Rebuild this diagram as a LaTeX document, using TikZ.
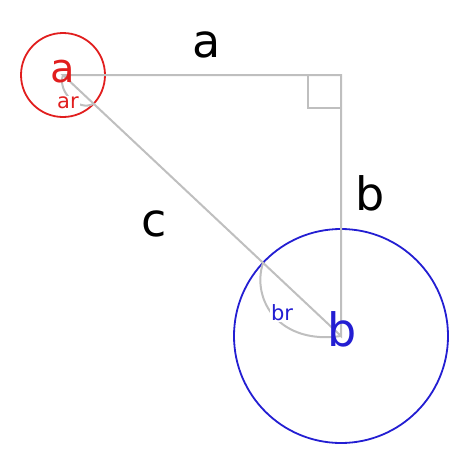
\documentclass[tikz,border=0pt]{standalone}
\usepackage{fontspec}
\setmainfont{DejaVu Sans}
\usetikzlibrary{calc}
\definecolor{cred}{RGB}{225,30,30}
\definecolor{cblue}{RGB}{35,30,210}
\tikzset{
 side/.style={draw=black!25, line width=2pt},
 biglabel/.style={font=\fontsize{46}{50}\selectfont, inner sep=0pt},
 smalllabel/.style={font=\fontsize{21}{24}\selectfont, inner sep=1pt, fill=white},
}

\begin{document}
\begin{tikzpicture}[x=1pt, y=-1pt]
\useasboundingbox (0,0) rectangle (474,466);
\coordinate (A) at (63,75);
\coordinate (B) at (341,336);
\coordinate (C) at (341,75);
% circles round the two points
\draw[cred, line width=1.8pt] (A) circle (42pt);
\draw[cblue, line width=1.8pt] (B) circle (107pt);
% the triangle
\draw[side] (A) -- (C) -- (B) -- cycle;
\draw[side, line width=1.6pt] ($(C)+(-33,0)$) --++(0,33) --++(33,0);
% radii along c
\coordinate (ra) at ($(A)!42pt!(B)$);
\coordinate (rb) at ($(B)!107pt!(A)$);
\draw[side] (ra) .. controls +(-15,8) and +(-6,17) .. (A);
\draw[side] (rb) .. controls +(-12,38) and +(-61,9) .. (B);
% labels
\node[biglabel] (la) at (207,45) {a};
\node[biglabel] (lb) at (370,193) {b};
\node[biglabel] (lc) at (154,224) {c};
\node[biglabel, text=cred, font=\fontsize{40}{44}\selectfont] (na) at (63,72) {a};
\node[biglabel, text=cblue] (nb) at (342,329) {b};
\node[smalllabel, text=cred] (lar) at (68,103) {ar};
\node[smalllabel, text=cblue] (lbr) at (282,313) {br};
\end{tikzpicture}
\end{document}
